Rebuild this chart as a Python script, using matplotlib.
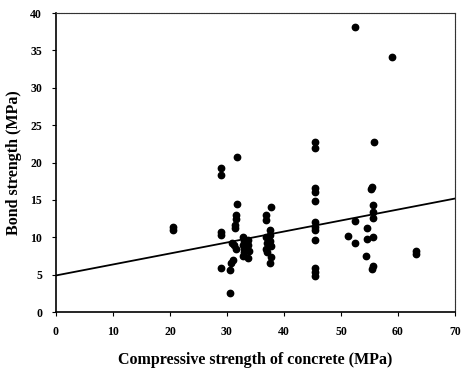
import matplotlib.pyplot as plt
import numpy as np

# compressive strength (MPa) and bond strength (MPa)
comp = [20.5, 20.6,
        29.0, 29.0, 28.9, 29.0, 28.9,
        30.5, 30.5, 30.7, 30.8, 31.0,
        31.8, 31.7, 31.6, 31.5, 31.4, 31.4, 31.3, 31.5,
        32.8, 32.9, 32.8, 33.0, 32.9, 32.8,
        33.7, 33.7, 33.8, 33.7,
        36.8, 36.9, 36.9, 37.0, 36.8, 37.0,
        37.8, 37.5, 37.6, 37.6, 37.7, 37.7, 37.6,
        45.4, 45.4, 45.4, 45.4, 45.4, 45.4, 45.4, 45.4, 45.4, 45.4, 45.4, 45.4,
        51.2,
        52.5, 52.5, 52.5,
        54.6, 54.5, 54.4,
        55.7, 55.5, 55.3, 55.6, 55.6, 55.6, 55.6, 55.6, 55.4,
        59.0,
        63.2, 63.2]
bond = [11.4, 11.0,
        19.3, 18.4, 10.7, 10.3, 5.9,
        2.5, 5.6, 6.6, 9.3, 7.0,
        20.7, 14.5, 13.0, 12.4, 11.6, 11.2, 9.0, 8.5,
        10.0, 9.5, 9.0, 8.5, 8.0, 7.5,
        9.6, 9.0, 8.2, 7.2,
        13.0, 12.3, 10.0, 9.2, 8.5, 8.0,
        14.1, 11.0, 10.3, 9.5, 8.8, 7.4, 6.6,
        22.7, 22.0, 16.6, 16.1, 14.8, 12.0, 11.4, 11.0, 9.6, 5.9, 5.4, 4.8,
        10.2,
        38.1, 12.2, 9.3,
        11.2, 9.8, 7.5,
        22.8, 16.7, 16.4, 14.3, 13.4, 12.6, 10.0, 6.1, 5.8,
        34.1,
        8.2, 7.8]

# fitted trend line
intercept = 4.9
slope = 0.147

plt.rcParams['font.family'] = ['Liberation Serif', 'DejaVu Serif']
plt.rcParams['font.weight'] = 'bold'

fig = plt.figure(figsize=(4.62, 3.72), dpi=100)
ax = fig.add_axes([0.121, 0.161, 0.864, 0.804])

ax.scatter(comp, bond, s=21, color='black', zorder=3)
xl = np.array([0, 70])
ax.plot(xl, intercept + slope * xl, color='black', linewidth=1.3)

ax.set_xlim(0, 70)
ax.set_ylim(0, 40)
ax.set_xticks(range(0, 71, 10))
ax.set_yticks(range(0, 41, 5))
ax.tick_params(direction='out', length=3, width=0.8, labelsize=8.5, pad=7)
for lab in ax.get_xticklabels() + ax.get_yticklabels():
    lab.set_fontweight('bold')

for side in ['left', 'bottom']:
    ax.spines[side].set_linewidth(1.2)
for side in ['top', 'right']:
    ax.spines[side].set_linewidth(0.8)
    ax.spines[side].set_linestyle((0, (1, 0.5)))
    ax.spines[side].set_color('#333333')

ax.set_xlabel("Compressive strength of concrete (MPa)", fontsize=11.5,
              fontweight='bold', labelpad=10)
ax.set_ylabel("Bond strength (MPa)", fontsize=11.5, fontweight='bold',
              labelpad=6)

plt.savefig("out.png", dpi=100)
